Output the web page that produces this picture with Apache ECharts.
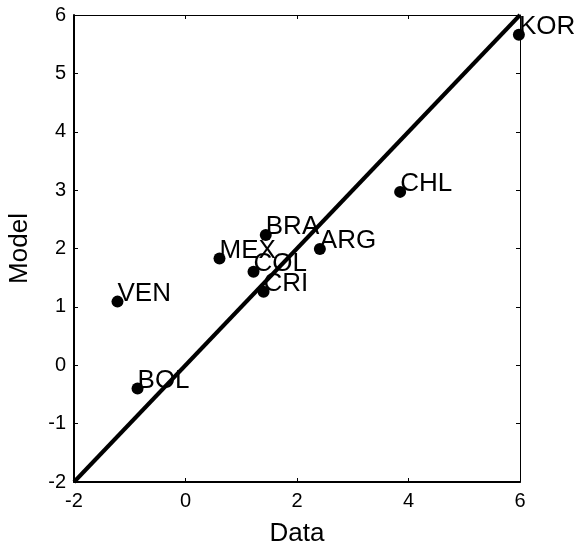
<!DOCTYPE html>
<html>
<head>
<meta charset="utf-8">
<script src="https://cdn.jsdelivr.net/npm/echarts@6/dist/echarts.min.js"></script>
<style>
  html, body { margin: 0; padding: 0; background: #fff; }
  #chart { width: 578px; height: 551px; }
</style>
</head>
<body>
<div id="chart"></div>
<script>
// Country codes and their observed (Data) vs. simulated (Model) values
const countries = ['KOR', 'CHL', 'BRA', 'MEX', 'ARG', 'COL', 'CRI', 'VEN', 'BOL'];
const dataValues = [5.98, 3.85, 1.44, 0.61, 2.41, 1.22, 1.40, -1.22, -0.86];
const modelValues = [5.66, 2.97, 2.23, 1.83, 1.99, 1.60, 1.26, 1.09, -0.40];

// 45-degree reference line endpoints
const diagonal = [[-2, -2], [6, 6]];

const axisMin = -2, axisMax = 6;
const xStep = 2, yStep = 1;
const FONT = 'Liberation Sans, Arial, sans-serif';

const points = countries.map((c, i) => ({ name: c, value: [dataValues[i], modelValues[i]] }));

function mainAxis(pos, name, nameGap) {
  return {
    type: 'value', position: pos, min: axisMin, max: axisMax,
    interval: pos === 'left' ? yStep : xStep,
    name: name, nameLocation: 'middle', nameGap: nameGap,
    nameTextStyle: { fontFamily: FONT, fontSize: 26, color: '#000' },
    axisLine: { show: true, onZero: false, lineStyle: { color: '#000', width: 2 } },
    axisTick: { show: true, inside: true, length: 4, lineStyle: { color: '#000', width: 1 } },
    axisLabel: { show: true, fontFamily: FONT, fontSize: 20, color: '#000', margin: pos === 'left' ? 8 : 9 },
    splitLine: { show: false }
  };
}
function mirrorAxis(pos) {
  return {
    type: 'value', position: pos, min: axisMin, max: axisMax,
    interval: pos === 'right' ? yStep : xStep,
    axisLine: { show: true, onZero: false, lineStyle: { color: '#000', width: 1 } },
    axisTick: { show: true, inside: true, length: 4, lineStyle: { color: '#000', width: 1 } },
    axisLabel: { show: false },
    splitLine: { show: false }
  };
}

const chart = echarts.init(document.getElementById('chart'), null, { renderer: 'canvas' });
chart.setOption({
  animation: false,
  backgroundColor: '#fff',
  grid: { left: 74, top: 15, right: 58, bottom: 69, containLabel: false, outerBoundsMode: 'none' },
  xAxis: [mainAxis('bottom', 'Data', 39), mirrorAxis('top')],
  yAxis: [mainAxis('left', 'Model', 41), mirrorAxis('right')],
  series: [
    {
      type: 'line', data: diagonal, showSymbol: false, symbol: 'none',
      lineStyle: { color: '#000', width: 4 }, z: 3, silent: true
    },
    {
      type: 'scatter', data: points, symbol: 'circle', symbolSize: 12,
      itemStyle: { color: '#000', opacity: 1 }, z: 4,
      label: {
        show: true, formatter: '{b}', position: [6, -2], align: 'left', verticalAlign: 'middle',
        fontFamily: FONT, fontSize: 26, color: '#000'
      }
    }
  ]
});
</script>
</body>
</html>
